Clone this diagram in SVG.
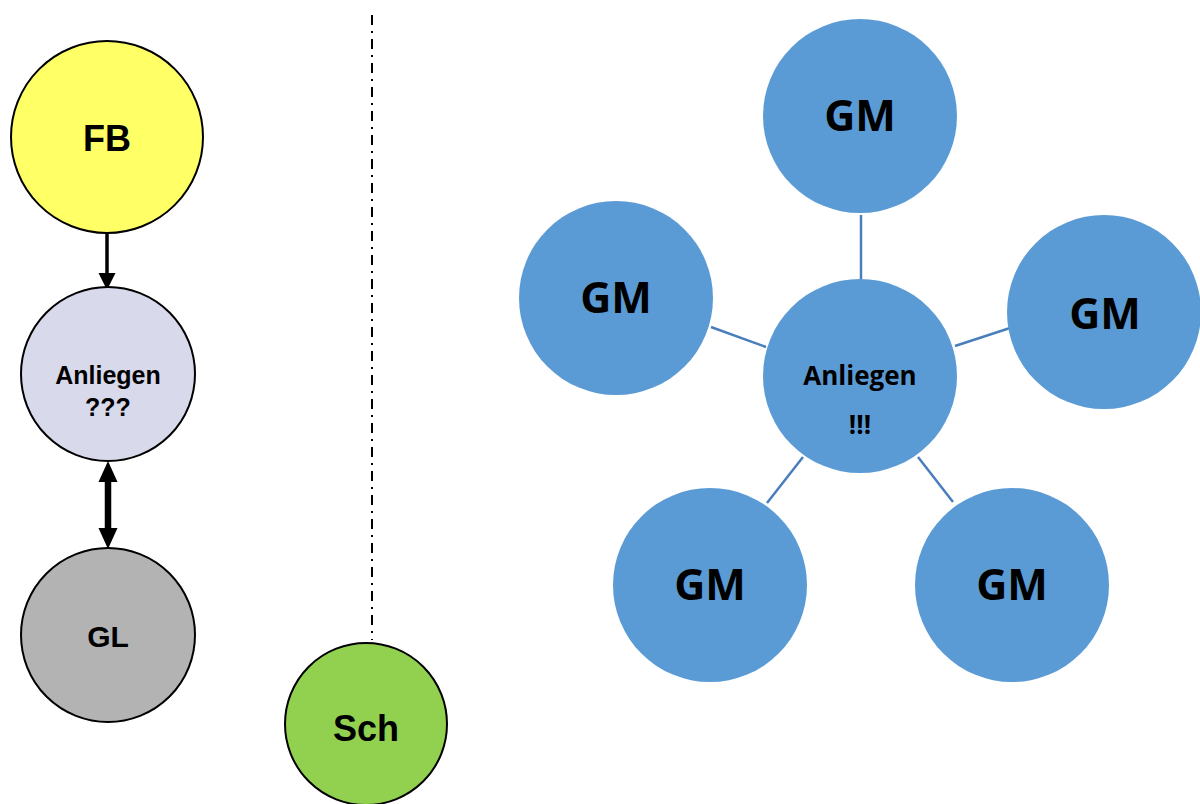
<svg xmlns="http://www.w3.org/2000/svg" width="1200" height="804" viewBox="0 0 1200 804">
<style>
.ln{stroke:#000;stroke-width:2;}
.gm{fill:#5b9bd5;}
.tA{font-family:"Liberation Sans",Arial,sans-serif;font-weight:bold;fill:#000;text-anchor:middle;dominant-baseline:central;}
.tC{font-family:"Open Sans","Noto Sans",sans-serif;font-weight:bold;fill:#000;text-anchor:middle;dominant-baseline:central;}
.con{stroke:#4a7ebb;stroke-width:2.5;fill:none;}
.head{fill:#000;}
</style>
<rect width="1200" height="804" fill="#fff"/>
<g id="connectors">
<line x1="107" y1="228" x2="107" y2="275" stroke="#000" stroke-width="3.5"/>
<polygon class="head" points="98.5,273 115.5,273 107,290"/>
<line x1="108" y1="478" x2="108" y2="532" stroke="#000" stroke-width="6.5"/>
<polygon class="head" points="98.5,482 117.5,482 108,461"/>
<polygon class="head" points="98.5,528 117.5,528 108,549"/>
<line x1="372" y1="15" x2="372" y2="640" stroke="#000" stroke-width="2" stroke-dasharray="10,6,2,6"/>
<line class="con" x1="861" y1="215" x2="861" y2="279"/>
<line class="con" x1="711" y1="327" x2="766" y2="347"/>
<line class="con" x1="955" y1="346" x2="1010" y2="328"/>
<line class="con" x1="767" y1="503" x2="803" y2="457"/>
<line class="con" x1="918" y1="457" x2="953" y2="502"/>
</g>
<g id="fb"><circle cx="107" cy="137" r="96" fill="#ffff66" class="ln"/><text x="107" y="138" class="tA" font-size="36">FB</text></g>
<g id="anliegen-left"><circle cx="108" cy="374" r="87" fill="#d9d9ec" class="ln"/><text x="108" y="375" class="tA" font-size="25">Anliegen</text><text x="108" y="407" class="tA" font-size="25">???</text></g>
<g id="gl"><circle cx="108" cy="635" r="87" fill="#b3b3b3" class="ln"/><text x="108" y="636" class="tA" font-size="30">GL</text></g>
<g id="sch"><circle cx="366" cy="724" r="81" fill="#92d050" class="ln"/><text x="366" y="728" class="tA" font-size="36">Sch</text></g>
<g id="gm-top"><circle cx="860" cy="116" r="97" class="gm"/><text x="860" y="114" class="tC" font-size="43">GM</text></g>
<g id="gm-left"><circle cx="616" cy="298" r="97" class="gm"/><text x="616" y="296" class="tC" font-size="43">GM</text></g>
<g id="gm-right"><circle cx="1104" cy="312" r="97" class="gm"/><text x="1105" y="312" class="tC" font-size="43">GM</text></g>
<g id="center"><circle cx="860" cy="376" r="97" class="gm"/><text x="860" y="375" class="tC" font-size="26">Anliegen</text><text x="860" y="424" class="tC" font-size="26">!!!</text></g>
<g id="gm-bl"><circle cx="710" cy="585" r="97" class="gm"/><text x="710" y="583" class="tC" font-size="43">GM</text></g>
<g id="gm-br"><circle cx="1012" cy="585" r="97" class="gm"/><text x="1012" y="583" class="tC" font-size="43">GM</text></g>
</svg>
